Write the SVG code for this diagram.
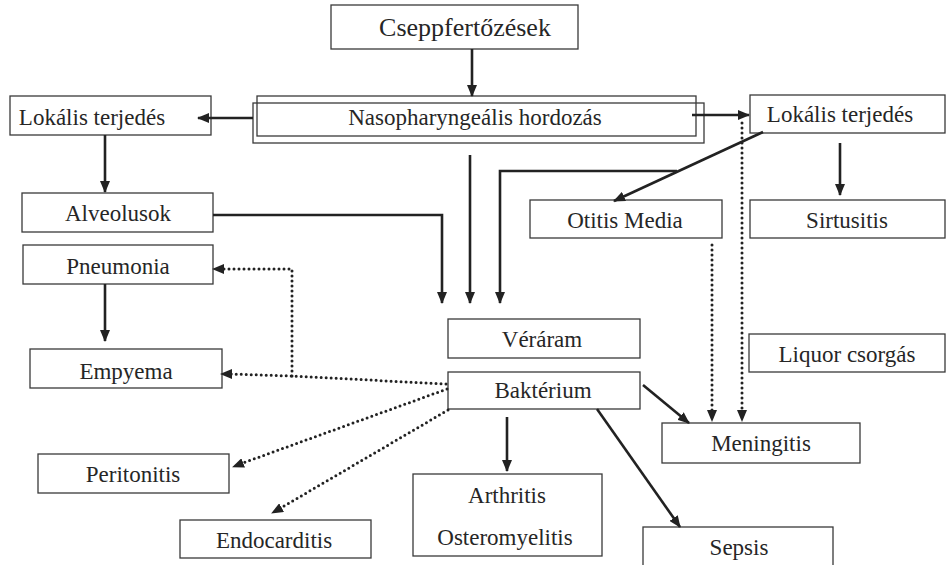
<svg xmlns="http://www.w3.org/2000/svg" width="947" height="565" viewBox="0 0 947 565">
<style>
.box{fill:#fff;stroke:#3a3a3a;stroke-width:1.3}
text{font-family:'Liberation Serif','DejaVu Serif',serif;font-size:23px;fill:#262626;text-anchor:middle;dominant-baseline:central}
.big{font-size:26px}
.solid{fill:none;stroke:#222;stroke-width:2.6}
.dot{fill:none;stroke:#222;stroke-width:3;stroke-dasharray:0 5;stroke-linecap:round}
.hd{fill:none;stroke:none}
</style>
<defs>
<marker id="ah" markerUnits="userSpaceOnUse" markerWidth="12" markerHeight="10" refX="11" refY="5" orient="auto">
<path d="M0,0 L12,5 L0,10 z" fill="#222"/>
</marker>
</defs>
<rect width="947" height="565" fill="#fff"/>
<g id="cseppfertozesek"><rect class="box" x="331" y="5" width="247" height="44"/><text class="big" x="465" y="27">Cseppfertőzések</text></g>
<g id="nasopharyngealis"><rect class="box" x="253" y="103" width="451" height="40" style="fill:none"/><rect class="box" x="257" y="96" width="439" height="40" style="fill:none"/><text x="475" y="117">Nasopharyngeális hordozás</text></g>
<g id="lokalis-bal"><rect class="box" x="10" y="96" width="201" height="39"/><text x="92" y="117">Lokális terjedés</text></g>
<g id="lokalis-jobb"><rect class="box" x="750" y="95" width="195" height="38"/><text x="840" y="114">Lokális terjedés</text></g>
<g id="alveolusok"><rect class="box" x="22" y="193" width="191" height="39"/><text x="118" y="213">Alveolusok</text></g>
<g id="otitis"><rect class="box" x="530" y="200" width="192" height="38"/><text x="625" y="220">Otitis Media</text></g>
<g id="sinusitis"><rect class="box" x="750" y="200" width="195" height="38"/><text x="847" y="220">Sirtusitis</text></g>
<g id="pneumonia"><rect class="box" x="23" y="245" width="190" height="39"/><text x="118" y="266">Pneumonia</text></g>
<g id="empyema"><rect class="box" x="30" y="349" width="192" height="39"/><text x="126" y="371">Empyema</text></g>
<g id="verar"><rect class="box" x="448" y="319" width="192" height="39"/><text x="542" y="339">Véráram</text></g>
<g id="bakterium"><rect class="box" x="448" y="372" width="192" height="37"/><text x="543" y="390">Baktérium</text></g>
<g id="liquor"><rect class="box" x="749" y="334" width="196" height="38"/><text x="847" y="354">Liquor csorgás</text></g>
<g id="meningitis"><rect class="box" x="662" y="423" width="198" height="40"/><text x="761" y="443">Meningitis</text></g>
<g id="peritonitis"><rect class="box" x="38" y="454" width="191" height="39"/><text x="133" y="474">Peritonitis</text></g>
<g id="endocarditis"><rect class="box" x="180" y="520" width="191" height="38"/><text x="274" y="540">Endocarditis</text></g>
<g id="arthritis"><rect class="box" x="413" y="474" width="189" height="82"/><text x="507" y="495">Arthritis</text><text x="505" y="537">Osteromyelitis</text></g>
<g id="sepsis"><rect class="box" x="643" y="527" width="190" height="40"/><text x="739" y="547">Sepsis</text></g>
<g id="connectors">
<path class="solid" d="M472,49 L472,96" marker-end="url(#ah)"/>
<path class="solid" d="M253,118 L198,118" marker-end="url(#ah)"/>
<path class="solid" d="M692,115 L749,115" marker-end="url(#ah)"/>
<path class="solid" d="M105,135 L105,192" marker-end="url(#ah)"/>
<path class="solid" d="M840,143 L840,195" marker-end="url(#ah)"/>
<path class="solid" d="M213,215 L442,215 L442,303" marker-end="url(#ah)"/>
<path class="solid" d="M470,155 L470,303" marker-end="url(#ah)"/>
<path class="solid" d="M763,132 L614,201" marker-end="url(#ah)"/>
<path class="solid" d="M677,171 L500,171 L500,303" marker-end="url(#ah)"/>
<path class="solid" d="M105,284 L105,341" marker-end="url(#ah)"/>
<path class="solid" d="M507,417 L507,471" marker-end="url(#ah)"/>
<path class="solid" d="M643,385 L689,423" marker-end="url(#ah)"/>
<path class="solid" d="M597,409 L680,527" marker-end="url(#ah)"/>
<path class="dot" d="M712,245 L712,412"/>
<path class="hd" d="M712,410 L712,421" marker-end="url(#ah)"/>
<path class="dot" d="M742,123 L742,412"/>
<path class="hd" d="M742,410 L742,421" marker-end="url(#ah)"/>
<path class="dot" d="M446,384 L292,376 L230,374"/>
<path class="hd" d="M232,374 L221,374" marker-end="url(#ah)"/>
<path class="dot" d="M292,376 L292,269 L222,269"/>
<path class="hd" d="M224,269 L213,269" marker-end="url(#ah)"/>
<path class="dot" d="M447,389 L240,464"/>
<path class="hd" d="M243,463 L233,467" marker-end="url(#ah)"/>
<path class="dot" d="M448,410 L279,509"/>
<path class="hd" d="M281,508 L272,513" marker-end="url(#ah)"/>
</g>
</svg>
